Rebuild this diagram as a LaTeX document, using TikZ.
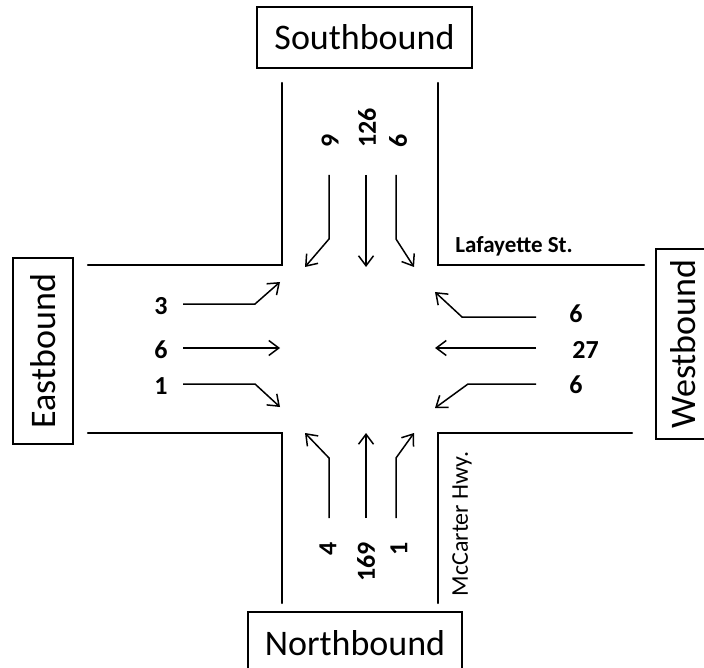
\documentclass[tikz,border=0pt]{standalone}
\usepackage{fontspec}
\setmainfont{Carlito}
\usetikzlibrary{arrows.meta}
\tikzset{>={Straight Barb[length=5pt,width=7.5pt]}}
\tikzstyle{road}=[line width=1.2pt,line cap=round]
\tikzstyle{flow}=[->,line width=0.75pt]
\tikzstyle{bound}=[draw,line width=0.7pt,inner sep=0pt,font=\fontsize{18}{20}\selectfont]
\tikzstyle{count}=[inner sep=0pt,font=\bfseries\fontsize{13}{15}\selectfont]
\tikzstyle{street}=[inner sep=0pt,font=\fontsize{12}{14}\selectfont]
\begin{document}
\begin{tikzpicture}[x=0.5pt,y=-0.5pt]
  \useasboundingbox (0,0) rectangle (704,667);
  \def\ew{183} % approach start
  \def\ww{536}
  \def\ns{175}
  \def\nn{518}

  % ROADS
  \draw[road] (88,265) -- (282,265) -- (282,83);
  \draw[road] (438,83) -- (438,265) -- (644,265);
  \draw[road] (88,433) -- (282,433) -- (282,603);
  \draw[road] (438,603) -- (438,433) -- (632,433);

  % BOXES
  \node[bound,minimum width=107.5pt,minimum height=30.5pt] (south) at (364.5,37.5) {Southbound};
  \node[bound,minimum width=107pt,minimum height=31pt] (north) at (355,643) {Northbound};
  \node[bound,rotate=90,minimum width=93pt,minimum height=30pt] (east) at (43,351) {Eastbound};
  \draw[line width=0.7pt] (720,249) -- (656,249) -- (656,439) -- (720,439);
  \node[inner sep=0pt,rotate=90,font=\fontsize{18}{20}\selectfont] (west) at (683,344) {Westbound};

  % STREET NAMES
  \node[street,font=\bfseries\fontsize{11.5}{13}\selectfont,anchor=base west] (lafayette) at (455,253) {Lafayette St.};
  \node[street,rotate=90] (mccarter) at (462,524) {McCarter Hwy.};

  % SOUTHBOUND
  \node[count,rotate=90,anchor=west] (sl) at (330,148) {9};
  \node[count,rotate=90,anchor=west] (st) at (367,148) {126};
  \node[count,rotate=90,anchor=west] (sr) at (398,148) {6};
  \draw[flow] (329,\ns) -- (329,239) -- (305,267);
  \draw[flow] (366,\ns) -- (366,267);
  \draw[flow] (396,\ns) -- (396,239) -- (414,267);

  % NORTHBOUND
  \node[count,rotate=90,anchor=east] (nl) at (328,542) {4};
  \node[count,rotate=90,anchor=east] (nt) at (366,542) {169};
  \node[count,rotate=90,anchor=east] (nr) at (399,542) {1};
  \draw[flow] (329,\nn) -- (329,458) -- (305,433);
  \draw[flow] (366,\nn) -- (366,433);
  \draw[flow] (396,\nn) -- (396,458) -- (414,433);

  % EASTBOUND
  \node[count,anchor=east] (el) at (168,306) {3};
  \node[count,anchor=east] (et) at (168,350) {6};
  \node[count,anchor=east] (er) at (168,386) {1};
  \draw[flow] (\ew,304) -- (255,304) -- (280,282);
  \draw[flow] (\ew,348) -- (280,348);
  \draw[flow] (\ew,384) -- (255,384) -- (280,407);

  % WESTBOUND
  \node[count,anchor=west] (wr) at (569,314) {6};
  \node[count,anchor=west] (wt) at (572,350) {27};
  \node[count,anchor=west] (wl) at (569,385) {6};
  \draw[flow] (\ww,317) -- (462,317) -- (435,292);
  \draw[flow] (\ww,348) -- (435,348);
  \draw[flow] (\ww,384) -- (468,384) -- (435,408);
\end{tikzpicture}
\end{document}
